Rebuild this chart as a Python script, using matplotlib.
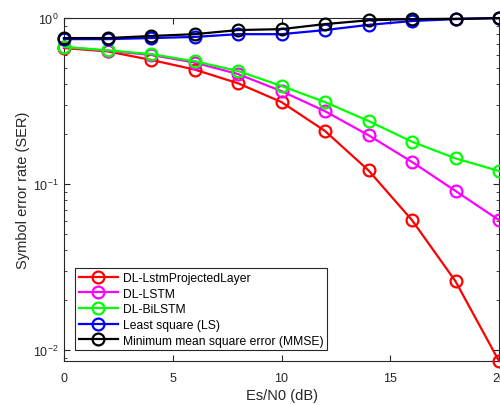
import matplotlib
matplotlib.use("Agg")
import matplotlib.pyplot as plt
import numpy as np

plt.rcParams['font.family'] = ['Liberation Sans', 'DejaVu Sans']
plt.rcParams['mathtext.fontset'] = 'custom'
plt.rcParams['mathtext.rm'] = 'Liberation Sans'
plt.rcParams['mathtext.it'] = 'Liberation Sans'

# Es/N0 in dB
snr = [0, 2, 4, 6, 8, 10, 12, 14, 16, 18, 20]

ser_proj = [0.66, 0.63, 0.56, 0.49, 0.405, 0.312, 0.209, 0.121, 0.0607, 0.026, 0.0086]
ser_lstm = [0.67, 0.635, 0.60, 0.54, 0.46, 0.363, 0.275, 0.197, 0.136, 0.091, 0.0607]
ser_bilstm = [0.67, 0.64, 0.607, 0.55, 0.48, 0.39, 0.312, 0.24, 0.18, 0.143, 0.12]
ser_ls = [0.747, 0.747, 0.758, 0.77, 0.80, 0.80, 0.847, 0.91, 0.96, 0.986, 1.0]
ser_mmse = [0.758, 0.758, 0.78, 0.80, 0.847, 0.858, 0.92, 0.97, 0.986, 0.99, 1.0]

labels = ['DL-LstmProjectedLayer', 'DL-LSTM', 'DL-BiLSTM',
          'Least square (LS)', 'Minimum mean square error (MMSE)']
colors = ['#ff0000', '#ff00ff', '#00ff00', '#0000ff', '#000000']

fig = plt.figure(figsize=(5, 4.06), dpi=100)
ax = fig.add_axes([0.128, 0.108, 0.87, 0.845])

for y, lab, c in zip([ser_proj, ser_lstm, ser_bilstm, ser_ls, ser_mmse], labels, colors):
    ax.plot(snr, y, '-o', color=c, lw=1.6, ms=8.5, mfc='none', mew=1.6,
            label=lab, clip_on=False, zorder=3)

ax.set_yscale('log')
ax.set_xlim(0, 20)
ax.set_ylim(10 ** -2.066, 1)
ax.set_xticks([0, 5, 10, 15, 20])

ax.tick_params(which='both', direction='in', top=True, right=True,
               labelsize=9, colors='#262626')
ax.tick_params(which='major', length=4)
ax.tick_params(which='minor', length=2.5)
ax.tick_params(axis='x', which='major', pad=8)
ax.tick_params(axis='y', which='major', pad=4)
for s in ax.spines.values():
    s.set_color('#262626')
    s.set_linewidth(0.8)

ax.set_xlabel('Es/N0 (dB)', fontsize=10.5, color='#262626', labelpad=3)
ax.set_ylabel('Symbol error rate (SER)', fontsize=10.5, color='#262626', labelpad=2)

leg = ax.legend(loc='lower left', bbox_to_anchor=(0.025, 0.032), fontsize=8.7,
                handlelength=3.3, borderaxespad=0, fancybox=False,
                framealpha=1, edgecolor='#262626', borderpad=0.3,
                labelspacing=0.3, handletextpad=0.4)
leg.get_frame().set_linewidth(0.8)

fig.savefig('out.png', dpi=100)
